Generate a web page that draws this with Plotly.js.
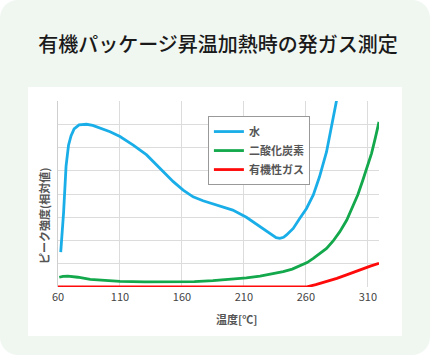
<!DOCTYPE html>
<html>
<head>
<meta charset="utf-8">
<script src="https://cdn.plot.ly/plotly-3.0.1.min.js"></script>
<style>
  html, body { margin: 0; padding: 0; background: #ffffff; }
  #wrap { position: relative; width: 430px; height: 355px; overflow: hidden; }
  #card { position: absolute; left: 0; top: 0; width: 430px; height: 355px; background: #f0f7f1; border-radius: 18px; }
  #panel { position: absolute; left: 28px; top: 87px; width: 374px; height: 249px; background: #ffffff; }
  #chart { position: absolute; left: 0; top: 0; width: 430px; height: 355px; }
</style>
</head>
<body>
<div id="wrap">
  <div id="card"></div>
  <div id="panel"></div>
  <div id="chart"></div>
</div>
<script>
// ---- data ----
const seriesNames = ["水", "二酸化炭素", "有機性ガス"];
const seriesColors = ["#1aaee8", "#13a84b", "#ff0a0a"];

const waterX = [62.2, 64.5, 66.5, 68.5, 70.5, 73, 77, 83, 88, 94, 102, 110, 120.7, 131.5, 142, 153, 161, 169, 177, 189, 201, 212, 223, 231, 236, 239, 242, 244.4, 249.8, 255, 260.5, 266, 271, 276.7, 280.7, 284.7, 286.5];
const waterY = [1.5, 3.2, 5.2, 6.1, 6.5, 6.8, 6.97, 7.0, 6.95, 6.83, 6.68, 6.47, 6.1, 5.68, 5.1, 4.53, 4.17, 3.88, 3.71, 3.5, 3.31, 3.0, 2.59, 2.28, 2.12, 2.09, 2.14, 2.24, 2.52, 2.95, 3.38, 3.96, 4.74, 5.82, 6.9, 7.97, 8.5];

const co2X = [61, 64, 68, 72, 76, 86, 99, 110, 130, 150, 170, 185, 201, 212, 223, 232, 241.7, 249, 255, 261, 266, 271, 276.7, 282, 287.4, 293, 298, 302, 306, 310, 313, 316, 319];
const co2Y = [0.42, 0.46, 0.47, 0.45, 0.42, 0.33, 0.27, 0.24, 0.22, 0.22, 0.23, 0.27, 0.33, 0.39, 0.47, 0.55, 0.66, 0.77, 0.9, 1.05, 1.23, 1.42, 1.66, 1.98, 2.38, 2.88, 3.45, 3.98, 4.6, 5.25, 5.75, 6.4, 7.1];

const gasX = [60, 260, 268, 276.7, 285, 292.8, 300, 306, 312, 319];
const gasY = [0, 0, 0.1, 0.23, 0.37, 0.52, 0.67, 0.8, 0.9, 1.02];

const xTicks = [60, 110, 160, 210, 260, 310];
const titleText = "有機パッケージ昇温加熱時の発ガス測定";
const xTitle = "温度[℃]";
const yTitle = "ピーク強度(相対値)";

const FONT = "'Noto Sans CJK JP', 'Noto Sans', sans-serif";

const xs = [waterX, co2X, gasX];
const ys = [waterY, co2Y, gasY];
const traces = seriesNames.map((n, i) => ({
  type: "scatter", mode: "lines", name: n,
  x: xs[i], y: ys[i],
  line: { color: seriesColors[i], width: 2.8 }
}));

const layout = {
  width: 430, height: 355,
  margin: { l: 58, r: 51, t: 101, b: 68 },
  paper_bgcolor: "rgba(0,0,0,0)",
  plot_bgcolor: "rgba(0,0,0,0)",
  font: { family: FONT, color: "#444", size: 11 },
  title: {
    text: titleText,
    font: { family: FONT, size: 20, color: "#1a1a1a", weight: 500 },
    xref: "container", yref: "container",
    x: 218 / 430, y: 1 - 45 / 355, xanchor: "center", yanchor: "middle"
  },
  xaxis: {
    range: [60, 319], tickvals: xTicks, ticktext: xTicks.map(String),
    showgrid: true, gridcolor: "#dcdcdc", gridwidth: 1,
    zeroline: false, showline: false, ticks: "",
    ticklabelstandoff: 2,
    tickfont: { family: FONT, size: 11, color: "#444" }
  },
  yaxis: {
    range: [0, 8], dtick: 1, tick0: 0, showticklabels: false,
    showgrid: true, gridcolor: "#dcdcdc", gridwidth: 1,
    zeroline: false, showline: true, linecolor: "#cfcfcf", linewidth: 1, ticks: ""
  },
  showlegend: true,
  legend: {
    x: 0.467, y: 0.919, xanchor: "left", yanchor: "top",
    bgcolor: "#ffffff", bordercolor: "#999", borderwidth: 1,
    font: { family: FONT, size: 11, color: "#555", weight: "bold" },
    itemwidth: 30, tracegroupgap: 0
  },
  annotations: [
    { text: "<b>" + yTitle + "</b>", xref: "paper", yref: "paper",
      x: (44 - 58) / 321, y: (287 - 216) / 186, xanchor: "center", yanchor: "middle",
      textangle: -90, showarrow: false, font: { family: FONT, size: 11, color: "#555" } },
    { text: "<b>" + xTitle + "</b>", xref: "paper", yref: "paper",
      x: (237 - 58) / 321, y: -(319 - 287) / 186, xanchor: "center", yanchor: "middle",
      showarrow: false, font: { family: FONT, size: 11, color: "#555" } }
  ]
};

Plotly.newPlot("chart", traces, layout, { displayModeBar: false, staticPlot: true });
</script>
</body>
</html>
